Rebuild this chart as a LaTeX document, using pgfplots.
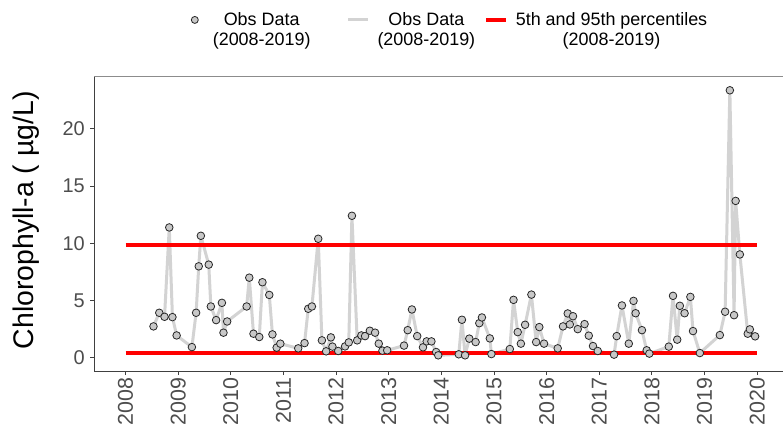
\documentclass[border=0pt]{standalone}
\usepackage{fontspec}
\setmainfont{Liberation Sans}
\usepackage{pgfplots}
\usepackage{pgfplotstable}
\pgfplotsset{compat=1.18}
\definecolor{ptfill}{RGB}{200,200,200}
\definecolor{lnc}{RGB}{211,211,211}
\definecolor{tickc}{RGB}{77,77,77}
\pgfplotstableread{
x y
2008.53 2.73
2008.64 3.92
2008.74 3.57
2008.83 11.38
2008.89 3.54
2008.97 1.94
2009.26 0.92
2009.34 3.92
2009.39 7.98
2009.43 10.65
2009.58 8.13
2009.62 4.47
2009.72 3.28
2009.83 4.79
2009.86 2.18
2009.93 3.16
2010.30 4.47
2010.35 6.99
2010.43 2.09
2010.54 1.80
2010.60 6.59
2010.73 5.48
2010.79 2.03
2010.87 0.87
2010.94 1.22
2011.28 0.81
2011.40 1.27
2011.47 4.27
2011.54 4.47
2011.66 10.39
2011.73 1.51
2011.81 0.55
2011.90 1.77
2011.93 0.96
2012.04 0.58
2012.17 0.98
2012.24 1.33
2012.30 12.40
2012.40 1.51
2012.48 1.94
2012.55 1.88
2012.64 2.35
2012.74 2.18
2012.81 1.22
2012.88 0.61
2012.97 0.64
2013.29 1.05
2013.36 2.40
2013.44 4.21
2013.54 1.88
2013.65 0.90
2013.72 1.42
2013.81 1.42
2013.90 0.49
2013.94 0.20
2014.33 0.29
2014.39 3.31
2014.45 0.20
2014.53 1.66
2014.65 1.36
2014.72 3.01
2014.77 3.51
2014.92 1.68
2014.95 0.31
2015.30 0.75
2015.37 5.05
2015.45 2.23
2015.51 1.22
2015.59 2.87
2015.71 5.51
2015.80 1.36
2015.86 2.67
2015.95 1.22
2016.21 0.81
2016.31 2.73
2016.40 3.86
2016.44 2.90
2016.50 3.62
2016.59 2.49
2016.72 2.93
2016.80 1.92
2016.88 1.01
2016.97 0.58
2017.28 0.26
2017.33 1.88
2017.43 4.56
2017.56 1.22
2017.65 4.96
2017.69 3.88
2017.81 2.40
2017.90 0.64
2017.95 0.35
2018.32 0.96
2018.40 5.40
2018.48 1.57
2018.53 4.53
2018.62 3.88
2018.73 5.31
2018.78 2.32
2018.91 0.40
2019.29 1.97
2019.39 4.01
2019.48 23.37
2019.56 3.71
2019.59 13.70
2019.67 9.02
2019.82 2.09
2019.86 2.47
2019.96 1.86
}\obsdata
\begin{document}
\begin{tikzpicture}
\begin{scope}
\clip (0,0) rectangle (783bp,433bp);
\begin{axis}[
  at={(94bp,62bp)}, anchor=south west,
  scale only axis, width=694.8bp, height=295bp,
  xmin=2007.4, xmax=2020.6, ymin=-1.17, ymax=24.62,
  axis x line*=bottom, axis y line*=left,
  axis line style={-, draw=black!75, line width=0.8bp},
  xtick={2008,...,2020}, ytick={0,5,10,15,20},
  tick align=outside, major tick length=4bp,
  tick style={draw=black!75, line width=0.8bp},
  /pgf/number format/assume math mode=true,
  xticklabel style={rotate=90, anchor=east, inner sep=2.5bp, text=tickc,
    font=\fontsize{21.5}{21.5}\selectfont, /pgf/number format/1000 sep={}},
  yticklabel style={inner sep=5bp, text=tickc, font=\fontsize{20}{20}\selectfont},
  ylabel={Chlorophyll-a ( µg/L)},
  every axis y label/.style={at={(axis description cs:-0.0975,0.511)}, rotate=90, anchor=center, font=\fontsize{28.5}{28.5}\selectfont},
  legend columns=3,
  legend style={at={(0.1307,1.2191)}, anchor=north west, draw=none, fill=none,
    inner sep=0pt, outer sep=0pt, column sep=0pt,
    nodes={inner sep=0pt, outer sep=0pt},
    font=\fontsize{18}{20}\selectfont},
  after end axis/.code={\draw[black!45, line width=0.8bp] (rel axis cs:0,1) -- (rel axis cs:1,1);},
]
\addplot[lnc, line width=3bp, line join=round, forget plot] table {\obsdata};
\addplot[red, line width=3.6bp, forget plot] coordinates {(2008,9.87) (2020,9.87)};
\addplot[red, line width=3.6bp, forget plot] coordinates {(2008,0.42) (2020,0.42)};
\addplot[only marks, mark=*, mark size=3.8bp, mark options={fill=ptfill, draw=black!85, line width=0.8bp}, forget plot] table {\obsdata};
\addlegendimage{legend image code/.code={\path[draw=none] (0bp,0bp) -- (20bp,0bp); \draw[fill=ptfill, draw=black!85, line width=0.8bp] (10bp,4.3bp) circle[radius=3.5bp];}}
\addlegendentry{\begin{tabular}{@{\hspace{8bp}}c@{\hspace{36bp}}}Obs Data\\(2008-2019)\end{tabular}}
\addlegendimage{legend image code/.code={\draw[lnc, line width=3bp] (0bp,4.3bp) -- (20bp,4.3bp);}}
\addlegendentry{\begin{tabular}{@{\hspace{8bp}}c@{\hspace{9bp}}}Obs Data\\(2008-2019)\end{tabular}}
\addlegendimage{legend image code/.code={\draw[red, line width=3.6bp] (0bp,4.3bp) -- (20bp,4.3bp);}}
\addlegendentry{\begin{tabular}{@{\hspace{8bp}}c@{}}5th and 95th percentiles\\(2008-2019)\end{tabular}}
\end{axis}
\end{scope}
\pgfresetboundingbox
\path[use as bounding box] (0,0) rectangle (783bp,433bp);
\end{tikzpicture}
\end{document}
